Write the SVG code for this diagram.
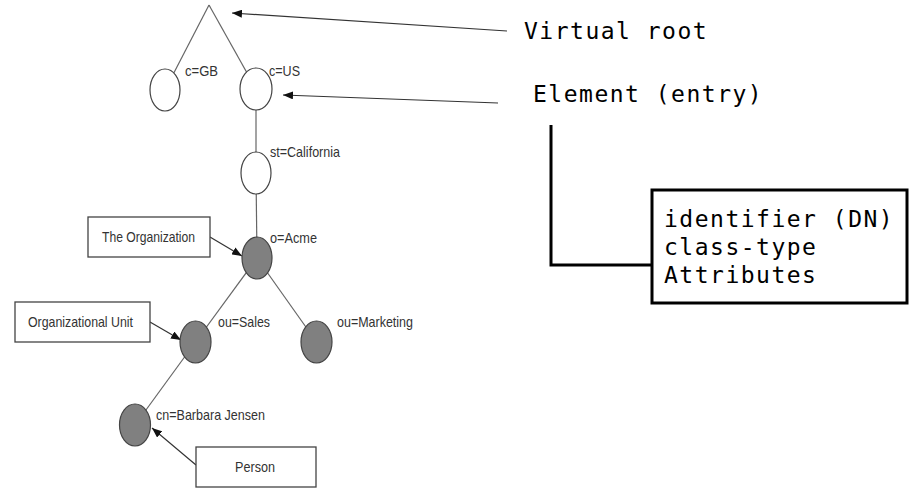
<svg xmlns="http://www.w3.org/2000/svg" width="916" height="490" viewBox="0 0 916 490">
  <defs>
    <marker id="head" viewBox="0 0 10 8" refX="10" refY="4" markerWidth="10" markerHeight="8" markerUnits="userSpaceOnUse" orient="auto">
      <path d="M0,0 L10,4 L0,8 Z" fill="#111"/>
    </marker>
    <style>
      .edge { stroke: #666; stroke-width: 1.2; fill: none; }
      .ptr { stroke: #333; stroke-width: 1.2; fill: none; marker-end: url(#head); }
      .open { fill: #fff; stroke: #444; stroke-width: 1.2; }
      .solid { fill: #808080; stroke: #444; stroke-width: 1.2; }
      .tag { fill: #fff; stroke: #444; stroke-width: 1.3; }
      .lbl { font-family: "Liberation Sans", Arial, sans-serif; font-size: 15px; fill: #333; }
      .mono { font-family: "DejaVu Sans Mono", monospace; font-size: 23px; letter-spacing: 1.5px; fill: #000; }
      .bold { stroke: #000; stroke-width: 3; fill: none; }
    </style>
  </defs>

  <!-- tree edges, drawn under the nodes -->
  <g id="connectors">
    <line class="edge" x1="209" y1="5" x2="165" y2="90"/>
    <line class="edge" x1="209" y1="5" x2="256" y2="89"/>
    <line class="edge" x1="256" y1="89" x2="256" y2="173"/>
    <line class="edge" x1="256" y1="173" x2="257" y2="258"/>
    <line class="edge" x1="257" y1="258" x2="195.5" y2="342"/>
    <line class="edge" x1="257" y1="258" x2="316.5" y2="342"/>
    <line class="edge" x1="195.5" y1="342" x2="135" y2="425"/>
    <!-- callout arrows -->
    <line class="ptr" x1="210" y1="237" x2="242" y2="256"/>
    <line class="ptr" x1="150" y1="322" x2="181" y2="340"/>
    <line class="ptr" x1="196" y1="465" x2="152" y2="428"/>
    <line class="ptr" x1="507" y1="31" x2="232" y2="13"/>
    <line class="ptr" x1="498" y1="103" x2="283" y2="95"/>
    <polyline class="bold" points="551,125 551,265 652,265"/>
  </g>

  <g id="node-gb">
    <ellipse class="open" cx="165" cy="90" rx="15" ry="21"/>
    <text class="lbl" x="185" y="76" textLength="33" lengthAdjust="spacingAndGlyphs">c=GB</text>
  </g>
  <g id="node-us">
    <ellipse class="open" cx="256" cy="89" rx="16" ry="21"/>
    <text class="lbl" x="269" y="76" textLength="31" lengthAdjust="spacingAndGlyphs">c=US</text>
  </g>
  <g id="node-california">
    <ellipse class="open" cx="256" cy="173" rx="15" ry="21"/>
    <text class="lbl" x="270" y="157" textLength="70" lengthAdjust="spacingAndGlyphs">st=California</text>
  </g>
  <g id="node-acme">
    <ellipse class="solid" cx="257" cy="258" rx="15" ry="21"/>
    <text class="lbl" x="270" y="243" textLength="47" lengthAdjust="spacingAndGlyphs">o=Acme</text>
  </g>
  <g id="node-sales">
    <ellipse class="solid" cx="195.5" cy="342" rx="15.5" ry="21"/>
    <text class="lbl" x="218" y="327" textLength="52" lengthAdjust="spacingAndGlyphs">ou=Sales</text>
  </g>
  <g id="node-marketing">
    <ellipse class="solid" cx="316.5" cy="342" rx="15.5" ry="21"/>
    <text class="lbl" x="337" y="327" textLength="76" lengthAdjust="spacingAndGlyphs">ou=Marketing</text>
  </g>
  <g id="node-jensen">
    <ellipse class="solid" cx="135" cy="425" rx="15.5" ry="21"/>
    <text class="lbl" x="156" y="420" textLength="109" lengthAdjust="spacingAndGlyphs">cn=Barbara Jensen</text>
  </g>

  <g id="tag-organization">
    <rect class="tag" x="88" y="217" width="122" height="40"/>
    <text class="lbl" x="102" y="242" textLength="93" lengthAdjust="spacingAndGlyphs">The Organization</text>
  </g>
  <g id="tag-unit">
    <rect class="tag" x="15" y="302" width="135" height="40"/>
    <text class="lbl" x="28" y="327" textLength="105" lengthAdjust="spacingAndGlyphs">Organizational Unit</text>
  </g>
  <g id="tag-person">
    <rect class="tag" x="196" y="447" width="120" height="40"/>
    <text class="lbl" x="235" y="472" textLength="40" lengthAdjust="spacingAndGlyphs">Person</text>
  </g>

  <g id="note-root">
    <text class="mono" x="524" y="39">Virtual root</text>
  </g>
  <g id="note-element">
    <text class="mono" x="533" y="102">Element (entry)</text>
  </g>
  <g id="entry-fields">
    <rect x="652" y="190" width="255" height="113" fill="#fff" stroke="#000" stroke-width="3"/>
    <text class="mono" x="664" y="227">identifier (DN)</text>
    <text class="mono" x="664" y="255">class-type</text>
    <text class="mono" x="664" y="283">Attributes</text>
  </g>
</svg>
